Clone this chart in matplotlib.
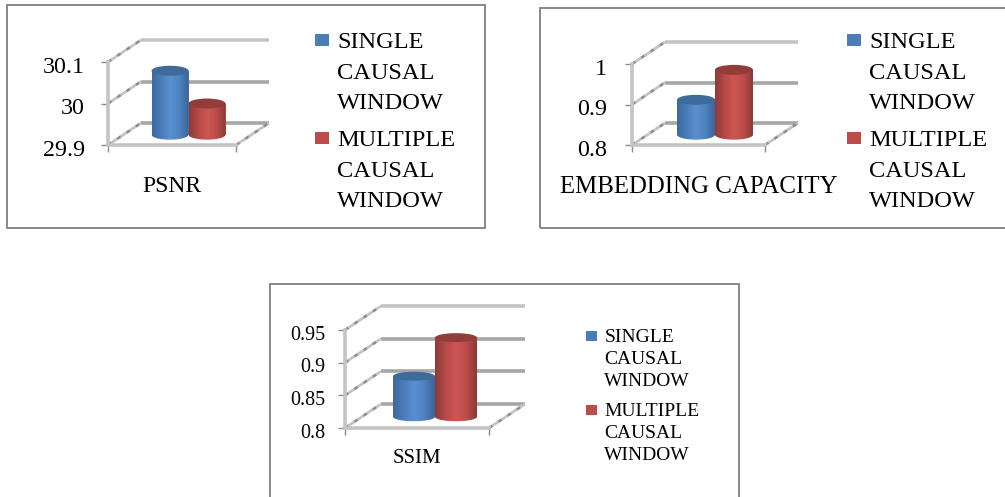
import numpy as np
import matplotlib
matplotlib.use("Agg")
import matplotlib.pyplot as plt
from matplotlib.patches import Ellipse, Patch, Polygon, Rectangle
from matplotlib.colors import LinearSegmentedColormap
from matplotlib.transforms import ScaledTranslation

plt.rcParams['font.family'] = ['Liberation Serif', 'DejaVu Serif']

W, H = 1005, 497
series_names = ['SINGLE\nCAUSAL\nWINDOW', 'MULTIPLE\nCAUSAL\nWINDOW']

psnr_values = [30.054, 29.975]
psnr_ticks = [29.9, 30, 30.1]
psnr_labels = ['29.9', '30', '30.1']

capacity_values = [0.886, 0.96]
capacity_ticks = [0.8, 0.9, 1]
capacity_labels = ['0.8', '0.9', '1']

ssim_values = [0.862, 0.921]
ssim_ticks = [0.8, 0.85, 0.9, 0.95]
ssim_labels = ['0.8', '0.85', '0.9', '0.95']

BLUE = LinearSegmentedColormap.from_list('b', ['#3c6a9e', '#4a7cb8', '#5a8fd0', '#4e82c0', '#3a659a'])
RED = LinearSegmentedColormap.from_list('r', ['#8e3b39', '#b64a48', '#cf5654', '#bc4d4a', '#8c3a38'])
CAPS = ['#3e6a9c', '#933d3b']
BASE = ['#4a7cb8', '#bc4d4a']
LIGHT = '#c4c4c4'
GRID = '#a6a6a6'

fig = plt.figure(figsize=(W / 100, H / 100), dpi=100, facecolor='white')


def frame(x0, y0, x1, y1):
    fig.add_artist(Rectangle((x0 / W, 1 - y1 / H), (x1 - x0) / W, (y1 - y0) / H,
                             transform=fig.transFigure, fill=False,
                             edgecolor='#7f7f7f', linewidth=1.3))


def diagonal(ax, xs, ys):
    ax.plot(xs, ys, color='#8f8f8f', gapcolor=LIGHT, lw=2.0, ls=(0, (1.5, 2.5)),
            clip_on=False, zorder=1, dash_capstyle='butt')


def panel(rect, values, ticks, labels, category, depth, bar_px, cap_px, tick_fs, tick_pad, cat_fs, cat_pad,
          leg_xy, leg_fs, leg_line, hlen, hpad, lspace, square, raise_px):
    xl, xr, ytop, ybot = rect
    ax = fig.add_axes([xl / W, 1 - ybot / H, (xr - xl) / W, (ybot - ytop) / H])
    ax.patch.set_alpha(0)
    ymin, ymax = ticks[0], ticks[-1]
    x0, x1 = -0.5, 0.5
    ax.set_xlim(x0, x1)
    ax.set_ylim(ymin, ymax)
    ppx = (xr - xl) / (x1 - x0)
    ppy = (ybot - ytop) / (ymax - ymin)
    dx, dy = depth[0] / ppx, depth[1] / ppy

    for s in ('top', 'right'):
        ax.spines[s].set_visible(False)
    for s in ('left', 'bottom'):
        ax.spines[s].set_color(LIGHT)
        ax.spines[s].set_linewidth(2.6)
    ax.set_yticks(ticks, labels, fontsize=tick_fs)
    ax.tick_params(axis='y', length=5, width=1, color='#8c8c8c', pad=tick_pad)
    for lab in ax.get_yticklabels():
        lab.set_transform(lab.get_transform() + ScaledTranslation(0, -2 / 72, fig.dpi_scale_trans))
    ax.set_xticks([0], [category], fontsize=cat_fs)
    ax.tick_params(axis='x', which='major', length=0, pad=cat_pad)
    ax.set_xticks([x0, x1], minor=True)
    ax.tick_params(axis='x', which='minor', length=5, width=1, color='#8c8c8c')

    for i, t in enumerate(ticks):
        ax.plot([x0 + dx, x1 + dx], [t + dy, t + dy], color=LIGHT if i == len(ticks) - 1 else GRID,
                lw=2.6, solid_capstyle='butt', clip_on=False, zorder=1)
        diagonal(ax, [x0, x0 + dx], [t, t + dy])
    diagonal(ax, [x1, x1 + dx], [ymin, ymin + dy])

    w = bar_px / ppx
    base = ymin + dy * 0.47
    caph = cap_px / ppy
    cx0 = dx * 0.5
    for i, (v, cmap) in enumerate(zip(values, (BLUE, RED))):
        cx = cx0 + (i - 0.5) * w
        h = v - ymin
        zb = 3 + i * 2
        ax.bar(cx, h, width=w, bottom=base, color=BASE[i], linewidth=0, zorder=zb, clip_on=False)
        top = base + h
        th = np.linspace(np.pi, 2 * np.pi, 40)
        verts = np.column_stack([cx + w / 2 * np.cos(th), base + caph / 2 * np.sin(th)])
        verts = np.vstack([verts, [[cx + w / 2, top], [cx - w / 2, top]]])
        poly = Polygon(verts, closed=True, transform=ax.transData, facecolor='none', edgecolor='none')
        ax.add_patch(poly)
        im = ax.imshow(np.linspace(0, 1, 64)[None, :], cmap=cmap, aspect='auto', zorder=zb + 0.5,
                       extent=(cx - w / 2, cx + w / 2, base - caph, top), clip_on=True)
        im.set_clip_path(poly)
        ax.add_patch(Ellipse((cx, top), w, caph, facecolor=CAPS[i], edgecolor='none',
                             zorder=zb + 0.7, clip_on=False))
    ax.set_xlim(x0, x1)
    ax.set_ylim(ymin, ymax)

    handles = [Patch(facecolor=BASE[0]), Patch(facecolor=BASE[1])]
    leg = ax.legend(handles, series_names, loc='upper left',
                    bbox_to_anchor=(leg_xy[0] / W, 1 - leg_xy[1] / H), bbox_transform=fig.transFigure,
                    frameon=False, fontsize=leg_fs, borderpad=0, borderaxespad=0,
                    handlelength=hlen, handleheight=hlen, handletextpad=hpad, labelspacing=lspace)
    for txt in leg.get_texts():
        txt.set_linespacing(leg_line)
    for hd in leg.legend_handles:
        hd.set_y(hd.get_y() + raise_px * 0.72)
        hd.set_width(square[0] * 0.72)
        hd.set_height(square[1] * 0.72)
    return ax


frame(7, 5, 485, 228)
frame(540, 8, 1010, 228)
frame(270, 284, 739, 505)

panel((108, 236, 62, 145), psnr_values, psnr_ticks, psnr_labels, 'PSNR', (33, 22), 37, 10, 17.3, 11.5, 17, 22,
      (315, 32), 17.6, 1.6, 0.6, 0.3, 0.65, (14, 12), 34)
panel((632, 765, 64, 145), capacity_values, capacity_ticks, capacity_labels, 'EMBEDDING CAPACITY', (33, 22), 38, 10, 17.3, 13, 17.9, 22,
      (847, 32), 17.6, 1.6, 0.6, 0.3, 0.65, (14, 12), 34)
panel((345, 489, 330, 428), ssim_values, ssim_ticks, ssim_labels, 'SSIM', (36, 24), 42, 9, 14.4, 9.4, 15, 15,
      (586, 329), 14, 1.38, 0.6, 0.35, 0.66, (11, 10), 24)

fig.savefig('out.png', dpi=100, facecolor='white')
